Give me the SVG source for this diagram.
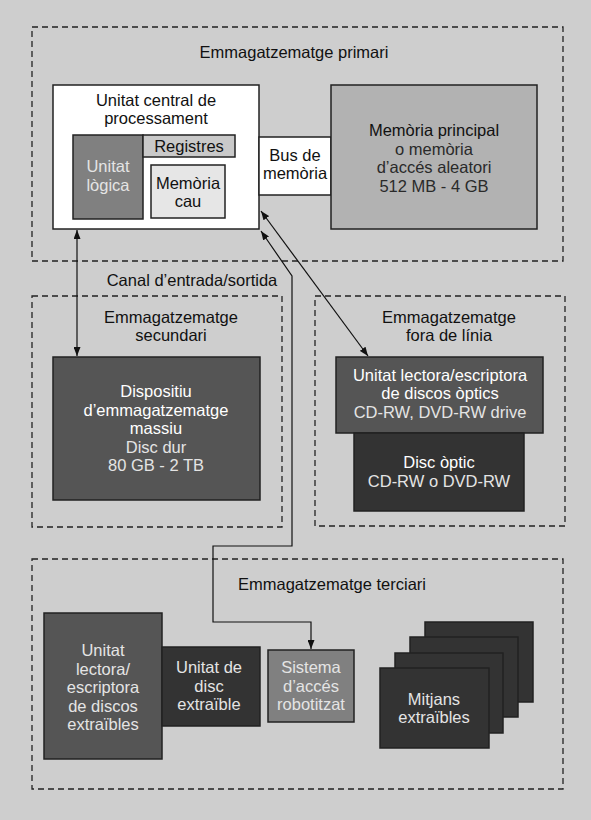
<svg xmlns="http://www.w3.org/2000/svg" width="591" height="820" viewBox="0 0 591 820">
<style>
text{font-family:"Liberation Sans",Arial,sans-serif;font-size:16.5px;text-anchor:middle;fill:#111}
.w{fill:#fff}
.lw{fill:#e4e4e4}
.g{fill:#2a2a2a}
.dash{fill:none;stroke:#222;stroke-width:1.3;stroke-dasharray:6 4}
.box{stroke:#222;stroke-width:1.5}
.con{fill:none;stroke:#111;stroke-width:1.2}
</style>
<defs>
<marker id="ah" viewBox="0 0 9 7" refX="9" refY="3.5" markerWidth="9" markerHeight="7" markerUnits="userSpaceOnUse" orient="auto-start-reverse">
<path d="M0,0 L9,3.5 L0,7 z" fill="#111"/>
</marker>
</defs>
<rect x="0" y="0" width="591" height="820" fill="#cecece"/>

<g id="primari">
<rect class="dash" x="32" y="27" width="531" height="234"/>
<text x="294" y="58">Emmagatzematge primari</text>
</g>
<g id="cpu">
<rect class="box" x="53" y="85" width="206" height="144" fill="#fff"/>
<text x="156" y="106">Unitat central de</text>
<text x="156" y="124">processament</text>
</g>
<g id="unitat-logica">
<rect class="box" x="73" y="135" width="70" height="84" fill="#808080"/>
<text class="lw" x="108" y="172">Unitat</text>
<text class="lw" x="108" y="191">lògica</text>
</g>
<g id="registres">
<rect class="box" x="143" y="135" width="92" height="22" fill="#c9c9c9"/>
<text x="189" y="152">Registres</text>
</g>
<g id="memoria-cau">
<rect class="box" x="151" y="165" width="74" height="53" fill="#e6e6e6"/>
<text x="188" y="189">Memòria</text>
<text x="188" y="207">cau</text>
</g>
<g id="bus">
<rect class="box" x="259" y="137" width="72" height="58" fill="#fff"/>
<text x="295" y="161">Bus de</text>
<text x="295" y="179">memòria</text>
</g>
<g id="memoria-principal">
<rect class="box" x="331" y="85" width="206" height="144" fill="#b2b2b2"/>
<text x="434" y="136">Memòria principal</text>
<text class="g" x="434" y="155">o memòria</text>
<text class="g" x="434" y="173">d’accés aleatori</text>
<text class="g" x="434" y="192">512 MB - 4 GB</text>
</g>

<g id="canal">
<text x="192" y="286">Canal d’entrada/sortida</text>
</g>

<g id="secundari">
<rect class="dash" x="32" y="296" width="250" height="231"/>
<text x="171" y="323">Emmagatzematge</text>
<text x="171" y="341">secundari</text>
</g>
<g id="dispositiu">
<rect class="box" x="53" y="357" width="207" height="143" fill="#555"/>
<text class="w" x="156" y="397">Dispositiu</text>
<text class="w" x="156" y="416">d’emmagatzematge</text>
<text class="w" x="156" y="434">massiu</text>
<text class="lw" x="156" y="453">Disc dur</text>
<text class="lw" x="156" y="471">80 GB - 2 TB</text>
</g>

<g id="fora-de-linia">
<rect class="dash" x="315" y="296" width="250" height="230"/>
<text x="449" y="323">Emmagatzematge</text>
<text x="449" y="341">fora de línia</text>
</g>
<g id="unitat-optica">
<rect class="box" x="336" y="357" width="207" height="76" fill="#555"/>
<text class="w" x="440" y="381">Unitat lectora/escriptora</text>
<text class="w" x="440" y="399">de discos òptics</text>
<text class="lw" x="440" y="418">CD-RW, DVD-RW drive</text>
</g>
<g id="disc-optic">
<rect class="box" x="354" y="433" width="170" height="78" fill="#333"/>
<text class="w" x="439" y="468">Disc òptic</text>
<text class="lw" x="439" y="487">CD-RW o DVD-RW</text>
</g>

<g id="terciari">
<rect class="dash" x="32" y="559" width="531" height="230"/>
<text x="332" y="590">Emmagatzematge terciari</text>
</g>
<g id="unitat-extraibles">
<rect class="box" x="44" y="613" width="118" height="146" fill="#555"/>
<text class="lw" x="103" y="656">Unitat</text>
<text class="lw" x="103" y="675">lectora/</text>
<text class="lw" x="103" y="693">escriptora</text>
<text class="lw" x="103" y="712">de discos</text>
<text class="lw" x="103" y="730">extraïbles</text>
</g>
<g id="disc-extraible">
<rect class="box" x="162" y="647" width="98" height="79" fill="#333"/>
<text class="lw" x="209" y="673">Unitat de</text>
<text class="lw" x="209" y="692">disc</text>
<text class="lw" x="209" y="710">extraïble</text>
</g>
<g id="sistema-robotitzat">
<rect class="box" x="268" y="650" width="86" height="72" fill="#808080"/>
<text class="lw" x="311" y="673">Sistema</text>
<text class="lw" x="311" y="692">d’accés</text>
<text class="lw" x="311" y="710">robotitzat</text>
</g>
<g id="mitjans-extraibles">
<rect class="box" x="425" y="622" width="108" height="80" fill="#333"/>
<rect class="box" x="410" y="637" width="108" height="80" fill="#333"/>
<rect class="box" x="395" y="653" width="108" height="80" fill="#333"/>
<rect class="box" x="380" y="668" width="109" height="80" fill="#333"/>
<text class="lw" x="434" y="705">Mitjans</text>
<text class="lw" x="434" y="723">extraïbles</text>
</g>

<g id="connectors">
<path class="con" d="M77,230 L77,356" marker-start="url(#ah)" marker-end="url(#ah)"/>
<path class="con" d="M261,211 L368,356" marker-start="url(#ah)" marker-end="url(#ah)"/>
<path class="con" d="M261,231 L292,276 L292,546 L213,546 L213,622 L311,622 L311,649" marker-start="url(#ah)" marker-end="url(#ah)"/>
</g>
</svg>
